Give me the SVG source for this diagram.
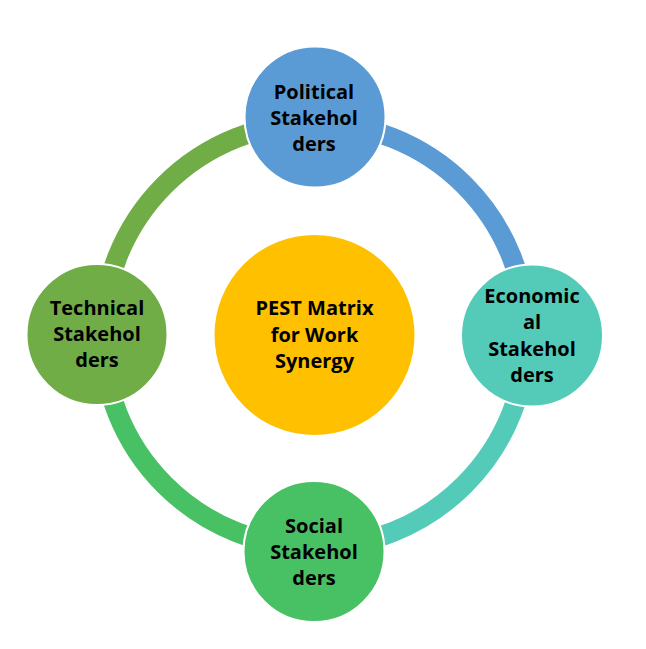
<svg xmlns="http://www.w3.org/2000/svg" width="646" height="649" viewBox="0 0 646 649">
<style>
.arc{fill:none;stroke-width:20}
.node{stroke:#fff;stroke-width:2}
.t{font-family:"Open Sans","Liberation Sans",sans-serif;font-weight:bold;font-size:20px;fill:#000;text-anchor:middle}
</style>
<rect width="646" height="649" fill="#fff"/>
<g id="connectors">
<path class="arc" stroke="#5B9BD5" d="M314.5,123 A212,212 0 0 1 526.5,335"/>
<path class="arc" stroke="#53CBB8" d="M526.5,335 A212,212 0 0 1 314.5,547"/>
<path class="arc" stroke="#48C064" d="M314.5,547 A212,212 0 0 1 102.5,335"/>
<path class="arc" stroke="#70AD47" d="M102.5,335 A212,212 0 0 1 314.5,123"/>
</g>
<g id="center">
<circle class="node" cx="314.5" cy="335" r="101" fill="#FFC000"/>
<text class="t" x="314.5" y="315">PEST Matrix</text>
<text class="t" x="314.5" y="341.5">for Work</text>
<text class="t" x="314.5" y="367.5">Synergy</text>
</g>
<g id="political">
<circle class="node" cx="315" cy="117" r="70.5" fill="#5B9BD5"/>
<text class="t" x="314" y="99">Political</text>
<text class="t" x="314" y="125">Stakehol</text>
<text class="t" x="314" y="151">ders</text>
</g>
<g id="economical">
<circle class="node" cx="532" cy="335.5" r="71" fill="#53CBB8"/>
<text class="t" x="532" y="303">Economic</text>
<text class="t" x="532" y="329">al</text>
<text class="t" x="532" y="355.5">Stakehol</text>
<text class="t" x="532" y="381.5">ders</text>
</g>
<g id="social">
<circle class="node" cx="314" cy="551.5" r="70.5" fill="#48C064"/>
<text class="t" x="314" y="533">Social</text>
<text class="t" x="314" y="559">Stakehol</text>
<text class="t" x="314" y="585">ders</text>
</g>
<g id="technical">
<circle class="node" cx="97" cy="334.5" r="70.5" fill="#70AD47"/>
<text class="t" x="97" y="315">Technical</text>
<text class="t" x="97" y="341">Stakehol</text>
<text class="t" x="97" y="367">ders</text>
</g>
</svg>
